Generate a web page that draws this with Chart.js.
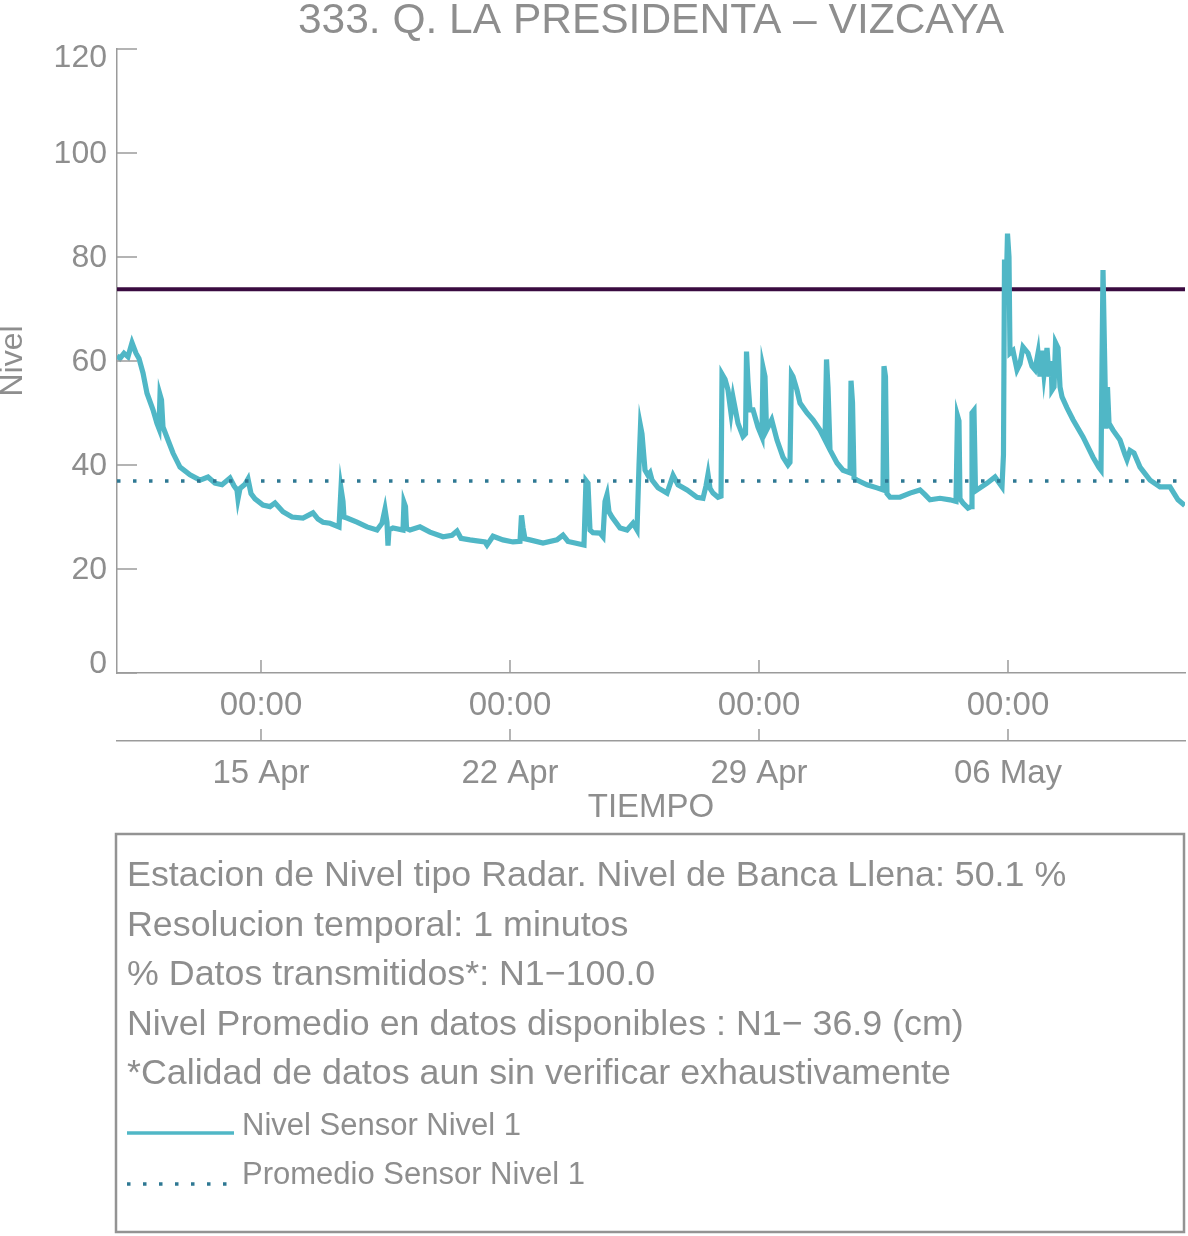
<!DOCTYPE html>
<html>
<head>
<meta charset="utf-8">
<script src="https://cdn.jsdelivr.net/npm/chart.js@4.4.1/dist/chart.umd.min.js"></script>
<style>
html,body{margin:0;padding:0;background:#ffffff;}
#wrap{width:1188px;height:1236px;position:relative;}
canvas{display:block;}
</style>
</head>
<body>
<div id="wrap"><canvas id="c" width="1188" height="1236" style="width:1188px;height:1236px"></canvas></div>
<script>
// ---- Data (days since 1 Apr 00:00; value = level) ----
const timeDays = [
9.952,10.036,10.149,10.261,10.374,10.486,10.570,10.683,10.795,10.964,
11.076,11.132,11.161,11.203,11.245,11.385,11.526,11.723,12.004,12.285,
12.510,12.707,12.904,13.128,13.241,13.325,13.353,13.410,13.550,13.635,
13.719,13.831,14.056,14.253,14.394,14.618,14.872,15.181,15.462,15.602,
15.743,15.940,16.193,16.249,16.305,16.333,16.418,16.699,16.980,17.261,
17.402,17.486,17.542,17.570,17.598,17.711,17.992,18.020,18.062,18.091,
18.189,18.470,18.751,19.117,19.370,19.510,19.623,19.876,20.073,20.297,
20.354,20.523,20.803,21.084,21.281,21.323,21.365,21.422,21.562,21.928,
22.321,22.490,22.630,22.827,23.080,23.136,23.192,23.249,23.333,23.530,
23.614,23.671,23.727,23.783,23.868,24.093,24.290,24.458,24.571,24.627,
24.669,24.711,24.796,24.880,24.937,24.993,25.162,25.415,25.584,25.724,
25.977,26.258,26.426,26.511,26.567,26.623,26.707,26.848,26.932,26.960,
27.045,27.129,27.213,27.270,27.326,27.410,27.551,27.621,27.649,27.691,
27.747,27.832,27.972,28.084,28.112,28.169,28.211,28.357,28.506,28.674,
28.815,28.871,28.913,28.955,29.068,29.153,29.350,29.518,29.715,29.856,
29.898,29.940,29.996,30.193,30.362,30.559,30.587,30.629,30.671,30.755,
31.036,31.317,31.486,31.514,31.556,31.598,31.683,31.964,32.245,32.526,
32.667,32.807,33.088,33.369,33.538,33.580,33.622,33.650,33.735,33.875,
33.960,33.988,34.044,34.086,34.129,34.410,34.635,34.831,34.873,34.902,
34.944,34.986,35.028,35.056,35.141,35.253,35.338,35.422,35.563,35.675,
35.759,35.844,35.900,35.956,36.012,36.097,36.153,36.209,36.237,36.294,
36.336,36.406,36.462,36.519,36.659,36.828,37.109,37.390,37.559,37.615,
37.643,37.671,37.713,37.755,37.797,37.840,37.952,38.149,38.289,38.345,
38.430,38.542,38.711,38.992,39.273,39.554,39.779,39.970
];
const nivel = [
61,60.5,61.5,60.8,63.5,61.5,60.5,57.7,53.8,50.6,
48,47,53.5,52.5,47.3,44.8,42.3,39.6,38.1,37.1,
37.7,36.5,36.2,37.5,36,35.2,33.5,35.5,36.3,37.3,
34.5,33.5,32.3,32.0,32.7,31.0,30.0,29.8,30.8,29.6,
29.0,28.8,28.1,35.5,33,30,29.8,29.0,28.1,27.5,
28.8,31.5,29,24.5,27.5,27.9,27.5,32.8,32,27.8,
27.5,28.1,27.1,26.2,26.5,27.3,25.9,25.6,25.4,25.2,
24.6,26.3,25.6,25.2,25.3,30.3,28,25.8,25.6,25.0,
25.6,26.5,25.3,25.0,24.6,37.0,36.5,27.5,27,26.9,
26.2,33,34.3,31,30.0,27.9,27.5,28.8,27.5,40,
47.5,46,39.0,38,38.5,37.1,35.6,34.6,38.0,36.2,
35.2,33.8,33.6,36,38.2,35.5,34.6,33.8,34,57.5,
56.5,54.4,50,53,51,48,45.5,46,61.8,56,
50.6,50.6,47.3,45.4,58.8,57,46.7,48.7,44.8,41.5,
40.0,40.5,57.5,57,54.4,51.9,50,48.7,46.7,44.8,
60.3,55,42.9,40.4,39.0,38.5,56.2,52,37.5,37.1,
36.2,35.6,35.2,59.0,57,34.5,33.8,33.8,34.6,35.2,
34.3,33.3,33.6,33.3,33.0,49.5,48.5,33.5,32.7,31.7,
32,50,50.5,35,35.2,36.5,37.7,35.8,42,79.5,
72,84.5,80,61.5,62,58.3,59.5,62.7,61.5,59,
58.3,61.5,57,62,57.5,62.5,57,60,54.4,55,
63.5,62.5,55,53.1,51,48.7,45.4,41.5,39.5,39,
60,77.5,62,47,55,48,46.7,44.8,42,41,
42.8,42.3,39.6,37.1,35.8,35.8,33.3,32.2
];
const umbral = 73.8;          // Nivel de banca llena
const promedio = 36.9;        // Nivel promedio
const xRange = [9.952, 39.976];
const tickDays = [14, 21, 28, 35];
const hourLabels = ['00:00', '00:00', '00:00', '00:00'];
const dateLabels = ['15 Apr', '22 Apr', '29 Apr', '06 May'];
const yTicks = [0, 20, 40, 60, 80, 100, 120];
const titleText = '333. Q. LA PRESIDENTA \u2013 VIZCAYA';
const infoLines = [
  'Estacion de Nivel tipo Radar. Nivel de Banca Llena: 50.1 %',
  'Resolucion temporal: 1 minutos',
  '% Datos transmitidos*: N1\u2212100.0',
  'Nivel Promedio en datos disponibles : N1\u2212 36.9 (cm)',
  '*Calidad de datos aun sin verificar exhaustivamente'
];
const legendLabels = ['Nivel Sensor Nivel 1', 'Promedio Sensor Nivel 1'];

// ---- Styles ----
const FONT = '"Liberation Sans", Arial, Helvetica, sans-serif';
const TEXT = '#8e8e8e';
const AXIS = '#9b9b9b';
const TEAL = '#50b7c6';
const DOT = '#2e7893';
const PURPLE = '#3a0b40';

Chart.defaults.font.family = FONT;

const seriesPts = timeDays.map((t, i) => ({x: t, y: nivel[i]}));
const umbralPts = xRange.map(t => ({x: t, y: umbral}));
const promPts = xRange.map(t => ({x: t, y: promedio}));

function setTicks(scale, arr) { scale.ticks = arr.map(v => ({value: v})); }

const decor = {
  id: 'decor',
  afterDraw(chart) {
    const ctx = chart.ctx;
    const ys = chart.scales.y, xs = chart.scales.x, x2 = chart.scales.x2;
    const ca = chart.chartArea;
    ctx.save();
    // inward tick marks
    ctx.strokeStyle = AXIS; ctx.lineWidth = 1.5;
    ys.ticks.forEach(t => {
      const py = ys.getPixelForValue(t.value);
      ctx.beginPath(); ctx.moveTo(ca.left, py); ctx.lineTo(ca.left + 20, py); ctx.stroke();
    });
    xs.ticks.forEach(t => {
      const px = xs.getPixelForValue(t.value);
      ctx.beginPath(); ctx.moveTo(px, xs.top); ctx.lineTo(px, xs.top - 13); ctx.stroke();
    });
    x2.ticks.forEach(t => {
      const px = x2.getPixelForValue(t.value);
      ctx.beginPath(); ctx.moveTo(px, x2.top); ctx.lineTo(px, x2.top - 12); ctx.stroke();
    });
    // y tick labels (end labels kept inside the axis span)
    ctx.fillStyle = TEXT;
    ctx.font = '32px ' + FONT;
    ctx.textAlign = 'right';
    ctx.textBaseline = 'middle';
    ys.ticks.forEach(t => {
      let py = ys.getPixelForValue(t.value) + 1;
      if (t.value === ys.max) py += 8;
      if (t.value === ys.min) py -= 10;
      ctx.fillText(String(t.value), ca.left - 10, py);
    });
    // title
    ctx.font = '42.5px ' + FONT;
    ctx.textAlign = 'center';
    ctx.textBaseline = 'alphabetic';
    ctx.fillText(titleText, (ca.left + ca.right) / 2, 33);
    // info / legend box
    ctx.strokeStyle = '#939393'; ctx.lineWidth = 2.5;
    ctx.strokeRect(116, 834, 1068, 398);
    ctx.textAlign = 'left';
    ctx.font = '35.8px ' + FONT;
    infoLines.forEach((s, i) => ctx.fillText(s, 127, 886 + i * 49.5));
    const ds = chart.data.datasets;
    // entry 1: solid
    ctx.strokeStyle = ds[1].borderColor; ctx.lineWidth = 3.5; ctx.setLineDash([]);
    ctx.beginPath(); ctx.moveTo(127, 1133); ctx.lineTo(234, 1133); ctx.stroke();
    // entry 2: dotted
    ctx.strokeStyle = ds[0].borderColor; ctx.lineWidth = ds[0].borderWidth; ctx.setLineDash(ds[0].borderDash);
    ctx.beginPath(); ctx.moveTo(127, 1184); ctx.lineTo(232, 1184); ctx.stroke();
    ctx.setLineDash([]);
    ctx.font = '31px ' + FONT;
    ctx.fillStyle = TEXT;
    ctx.fillText(legendLabels[0], 242, 1135);
    ctx.fillText(legendLabels[1], 242, 1184);
    ctx.restore();
  }
};

new Chart(document.getElementById('c'), {
  type: 'line',
  data: {
    datasets: [
      {label: legendLabels[1], data: promPts, borderColor: DOT, borderWidth: 3.5, borderDash: [3.5, 12.5],
       pointRadius: 0, fill: false, order: 0},
      {label: legendLabels[0], data: seriesPts, borderColor: TEAL, borderWidth: 5.2,
       pointRadius: 0, fill: false, tension: 0, order: 1, borderJoinStyle: 'miter'},
      {label: 'Banca llena', data: umbralPts, borderColor: PURPLE, borderWidth: 4,
       pointRadius: 0, fill: false, order: 2}
    ]
  },
  options: {
    responsive: false,
    animation: false,
    devicePixelRatio: 1,
    layout: {padding: {left: 0, top: 49, right: 3, bottom: 408}},
    plugins: {legend: {display: false}, tooltip: {enabled: false}, title: {display: false}},
    scales: {
      x: {
        type: 'linear', position: 'bottom', weight: 0,
        min: xRange[0], max: xRange[1],
        afterBuildTicks: s => setTicks(s, tickDays),
        ticks: {autoSkip: false, maxRotation: 0, padding: 13, color: TEXT, font: {size: 33},
                callback: v => hourLabels[tickDays.indexOf(v)]},
        grid: {display: true, drawOnChartArea: false, drawTicks: false},
        border: {display: true, color: AXIS, width: 1.5},
        afterFit: s => { s.height = 68; }
      },
      x2: {
        type: 'linear', position: 'bottom', weight: 1,
        min: xRange[0], max: xRange[1],
        afterBuildTicks: s => setTicks(s, tickDays),
        ticks: {autoSkip: false, maxRotation: 0, padding: 13, color: TEXT, font: {size: 33},
                callback: v => dateLabels[tickDays.indexOf(v)]},
        grid: {display: true, drawOnChartArea: false, drawTicks: false},
        border: {display: true, color: AXIS, width: 1.5},
        title: {display: true, text: 'TIEMPO', color: TEXT, font: {size: 33}, padding: {top: 0, bottom: 0}},
        afterFit: s => { s.height = 87; }
      },
      y: {
        type: 'linear', position: 'left',
        min: 0, max: 120,
        afterBuildTicks: s => setTicks(s, yTicks),
        ticks: {display: false},
        grid: {display: true, drawOnChartArea: false, drawTicks: false},
        border: {display: true, color: AXIS, width: 1.5},
        title: {display: true, text: 'Nivel', color: TEXT, font: {size: 32, lineHeight: 0.8}, padding: {top: 0, bottom: 0}},
        afterFit: s => { s.width = 117; }
      }
    }
  },
  plugins: [decor]
});
</script>
</body>
</html>
